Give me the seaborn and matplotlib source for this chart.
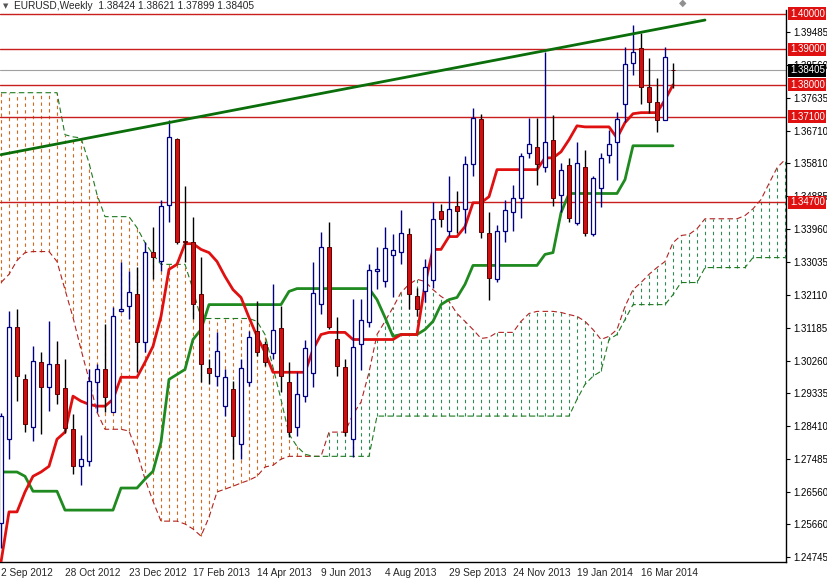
import matplotlib
matplotlib.use("Agg")
import matplotlib.pyplot as plt
import matplotlib.transforms as mtrans
import seaborn as sns
import numpy as np
import pandas as pd

# ---------------- data ----------------
opens = [1.2570,1.2805,1.3120,1.2974,1.2840,1.3022,1.2952,1.3016,1.2948,1.2835,
         1.2729,1.2745,1.2966,1.3002,1.2882,1.3165,1.3179,1.3212,1.3078,1.3332,
         1.3305,1.3464,1.3649,1.3362,1.3358,1.3212,1.3006,1.2982,1.2899,1.2946,
         1.2792,1.2966,1.3108,1.3072,1.3047,1.3117,1.2966,1.2840,1.2926,1.2991,
         1.3184,1.3344,1.3086,1.3008,1.2806,1.3072,1.3134,1.3278,1.3249,1.3322,
         1.3330,1.3380,1.3206,1.3220,1.3252,1.3445,1.3390,1.3460,1.3452,1.3578,
         1.3704,1.3384,1.3255,1.3390,1.3444,1.3482,1.3610,1.3626,1.3570,1.3646,
         1.3490,1.3574,1.3412,1.3568,1.3380,1.3510,1.3604,1.3640,1.3746,1.3861,
         1.3904,1.3794,1.3752,1.3700,1.3842]
highs = [1.2880,1.3165,1.3170,1.2988,1.3066,1.3050,1.3137,1.3080,1.3030,1.2876,
         1.2817,1.3002,1.3016,1.3128,1.3175,1.3302,1.3277,1.3290,1.3360,1.3400,
         1.3478,1.3702,1.3652,1.3515,1.3430,1.3316,1.3030,1.3106,1.3002,1.2968,
         1.3030,1.3108,1.3192,1.3080,1.3240,1.3179,1.3022,1.2994,1.3085,1.3302,
         1.3388,1.3414,1.3148,1.3030,1.3200,1.3200,1.3296,1.3344,1.3400,1.3380,
         1.3450,1.3398,1.3230,1.3310,1.3470,1.3466,1.3544,1.3502,1.3600,1.3734,
         1.3718,1.3444,1.3406,1.3476,1.3518,1.3610,1.3708,1.3708,1.3893,1.3716,
         1.3582,1.3596,1.3640,1.3616,1.3545,1.3610,1.3672,1.3724,1.3906,1.3968,
         1.3946,1.3876,1.3820,1.3906,1.3862]
lows = [1.2500,1.2750,1.2912,1.2826,1.2801,1.2820,1.2885,1.2904,1.2823,1.2706,
        1.2677,1.2731,1.2882,1.2882,1.2882,1.3163,1.3142,1.2994,1.3050,1.3254,
        1.3277,1.3414,1.3352,1.3302,1.3142,1.2966,1.2960,1.2954,1.2870,1.2750,
        1.2750,1.2954,1.3038,1.3010,1.3030,1.2938,1.2811,1.2815,1.2910,1.2952,
        1.3156,1.3114,1.2982,1.2814,1.2755,1.3000,1.3120,1.3226,1.3232,1.3204,
        1.3296,1.3170,1.3150,1.3190,1.3230,1.3400,1.3376,1.3384,1.3385,1.3544,
        1.3370,1.3196,1.3246,1.3360,1.3390,1.3425,1.3594,1.3520,1.3556,1.3460,
        1.3444,1.3414,1.3406,1.3376,1.3376,1.3456,1.3580,1.3534,1.3696,1.3828,
        1.3746,1.3720,1.3669,1.3700,1.3790]
closes = [1.2870,1.3120,1.2983,1.2848,1.3024,1.2952,1.3016,1.2932,1.2836,1.2729,
          1.2750,1.2969,1.3002,1.2924,1.3150,1.3170,1.3218,1.3078,1.3332,1.3318,
          1.3459,1.3654,1.3360,1.3358,1.3184,1.3016,1.2992,1.3052,1.2980,1.2814,
          1.3004,1.3092,1.3050,1.3022,1.3112,1.2982,1.2825,1.2932,1.3060,1.3215,
          1.3344,1.3120,1.3010,1.2826,1.3064,1.3140,1.3279,1.3283,1.3341,1.3336,
          1.3383,1.3212,1.3172,1.3288,1.3424,1.3424,1.3452,1.3446,1.3578,1.3706,
          1.3386,1.3258,1.3390,1.3448,1.3482,1.3600,1.3634,1.3578,1.3640,1.3482,
          1.3562,1.3426,1.3580,1.3384,1.3538,1.3596,1.3634,1.3704,1.3858,1.3892,
          1.3794,1.3752,1.3702,1.3878,1.38405]

tenkan = [1.2460,1.2601,1.2601,1.2657,1.2701,1.2713,1.2729,1.2805,1.2825,1.2926,
          1.2912,1.2903,1.2898,1.2898,1.2917,1.2979,1.2979,1.2979,1.3021,1.3066,
          1.3150,1.3282,1.3296,1.3354,1.3354,1.3338,1.3329,1.3304,1.3262,1.3225,
          1.3203,1.3147,1.3094,1.3049,1.2993,1.2993,1.2993,1.2993,1.2993,1.3057,
          1.3099,1.3105,1.3105,1.3105,1.3085,1.3085,1.3085,1.3085,1.3085,1.3085,
          1.3099,1.3099,1.3099,1.3240,1.3338,1.3338,1.3374,1.3374,1.3402,1.3469,
          1.3469,1.3486,1.3562,1.3562,1.3562,1.3562,1.3562,1.3562,1.3595,1.3595,
          1.3612,1.3646,1.3685,1.3682,1.3682,1.3682,1.3682,1.3651,1.3694,1.3719,
          1.3722,1.3722,1.3722,1.3758,1.3800]
kijun = [1.2713,1.2713,1.2713,1.2701,1.2659,1.2659,1.2659,1.2659,1.2606,1.2606,
         1.2606,1.2606,1.2606,1.2606,1.2606,1.2668,1.2668,1.2668,1.2693,1.2715,
         1.2797,1.2973,1.2987,1.3001,1.3085,1.3113,1.3183,1.3183,1.3183,1.3183,
         1.3183,1.3183,1.3183,1.3183,1.3183,1.3183,1.3220,1.3228,1.3228,1.3228,
         1.3228,1.3228,1.3228,1.3228,1.3228,1.3228,1.3228,1.3197,1.3147,1.3094,
         1.3099,1.3099,1.3099,1.3113,1.3136,1.3183,1.3197,1.3203,1.3240,1.3293,
         1.3293,1.3293,1.3293,1.3293,1.3293,1.3293,1.3293,1.3293,1.3324,1.3329,
         1.3441,1.3495,1.3495,1.3495,1.3495,1.3495,1.3495,1.3495,1.3534,1.3629,
         1.3629,1.3629,1.3629,1.3629,1.3629]
span_a = [1.3245,1.3268,1.3307,1.3329,1.3332,1.3332,1.3332,1.3304,1.3225,1.3147,
          1.3057,1.2973,1.2881,1.2833,1.2833,1.2833,1.2828,1.2769,1.2693,1.2631,
          1.2575,1.2575,1.2575,1.2567,1.2553,1.2533,1.2586,1.2657,1.2665,1.2673,
          1.2682,1.2690,1.2701,1.2727,1.2732,1.2749,1.2757,1.2757,1.2757,1.2757,
          1.2757,1.2825,1.2825,1.2825,1.2875,1.2909,1.2993,1.3099,1.3136,1.3175,
          1.3217,1.3240,1.3254,1.3248,1.3225,1.3206,1.3192,1.3158,1.3136,1.3113,
          1.3088,1.3091,1.3105,1.3105,1.3105,1.3136,1.3158,1.3164,1.3164,1.3164,
          1.3161,1.3155,1.3150,1.3136,1.3113,1.3085,1.3094,1.3113,1.3178,1.3225,
          1.3245,1.3268,1.3287,1.3304,1.3357,1.3377,1.3380,1.3396,1.3424,1.3424,
          1.3424,1.3424,1.3424,1.3433,1.3452,1.3478,1.3523,1.3567,1.3590]
span_b = [1.3778,1.3778,1.3778,1.3778,1.3778,1.3778,1.3778,1.3778,1.3660,1.3654,
          1.3651,1.3581,1.3492,1.3430,1.3430,1.3430,1.3430,1.3399,1.3357,1.3324,
          1.3296,1.3296,1.3296,1.3296,1.3225,1.3144,1.3144,1.3144,1.3144,1.3144,
          1.3144,1.3144,1.3136,1.3099,1.3007,1.2917,1.2819,1.2785,1.2763,1.2757,
          1.2757,1.2757,1.2757,1.2757,1.2757,1.2757,1.2757,1.2870,1.2870,1.2870,
          1.2870,1.2870,1.2870,1.2870,1.2870,1.2870,1.2870,1.2870,1.2870,1.2870,
          1.2870,1.2870,1.2870,1.2870,1.2870,1.2870,1.2870,1.2870,1.2870,1.2870,
          1.2870,1.2870,1.2917,1.2959,1.2982,1.2996,1.3085,1.3099,1.3141,1.3183,
          1.3183,1.3183,1.3183,1.3183,1.3211,1.3245,1.3245,1.3245,1.3287,1.3287,
          1.3287,1.3287,1.3287,1.3287,1.3315,1.3315,1.3315,1.3315,1.3315]

trend_x = [0, 88]
trend_y = [1.3604, 1.3982]
levels = [1.40000, 1.39000, 1.38000, 1.37100, 1.34700]
level_labels = ["1.40000", "1.39000", "1.38000", "1.37100", "1.34700"]
last_price = 1.38405
yticks = [1.39485,1.38560,1.37635,1.36710,1.35810,1.34885,1.33960,1.33035,1.32110,
          1.31185,1.30260,1.29335,1.28410,1.27485,1.26560,1.25660,1.24745]
date_pos = [0, 8, 16, 24, 32, 40, 48, 56, 64, 72, 80]
date_labels = ["2 Sep 2012", "28 Oct 2012", "23 Dec 2012", "17 Feb 2013", "14 Apr 2013",
               "9 Jun 2013", "4 Aug 2013", "29 Sep 2013", "24 Nov 2013", "19 Jan 2014",
               "16 Mar 2014"]
title = "EURUSD,Weekly  1.38424 1.38621 1.37899 1.38405"

# ---------------- plot ----------------
sns.set_style("white")
plt.rcParams['font.family'] = ['Liberation Sans', 'DejaVu Sans']
FS = 7.3
YFS = 7.0
fig = plt.figure(figsize=(8.27, 5.78), dpi=100)
ax = fig.add_axes([0.0, 1 - 562/578, 786/827, (562 - 10)/578])

n = len(opens)
idx = np.arange(n)
ci = np.arange(len(span_a))
a = np.array(span_a); b = np.array(span_b)

red_m = b > a
ax.vlines(ci[red_m], a[red_m], b[red_m], colors="#d2691e", linestyles=(0, (3, 3)), linewidth=0.8, zorder=1)
ax.vlines(ci[~red_m], b[~red_m], a[~red_m], colors="#2e8b57", linestyles=(0, (3, 3)), linewidth=0.8, zorder=1)

cloud = pd.DataFrame({"i": ci, "a": a, "b": b})
sns.lineplot(data=cloud, x="i", y="a", ax=ax, color="#b22222", linewidth=0.8, linestyle=(0, (5, 3)), zorder=2)
sns.lineplot(data=cloud, x="i", y="b", ax=ax, color="#1f7a1f", linewidth=0.8, linestyle=(0, (5, 3)), zorder=2)

for lv in levels:
    ax.axhline(lv, color="#c81e1e", linewidth=1.0, zorder=2)
ax.axhline(last_price, color="#a0a0a0", linewidth=0.8, zorder=2)

lines = pd.DataFrame({"i": idx, "t": tenkan, "k": kijun})
sns.lineplot(data=lines, x="i", y="k", ax=ax, color="#1f8a1f", linewidth=2.0, zorder=3)
sns.lineplot(data=lines, x="i", y="t", ax=ax, color="#e01010", linewidth=2.0, zorder=3)

o = np.array(opens); h = np.array(highs); l = np.array(lows); c = np.array(closes)
bull = c >= o
ax.vlines(idx[bull], l[bull], h[bull], colors="#000080", linewidth=1.0, zorder=4)
ax.vlines(idx[~bull], l[~bull], h[~bull], colors="#000000", linewidth=1.0, zorder=4)
bw = 0.62
ax.bar(idx[bull], (c - o)[bull], bottom=o[bull], width=bw, color="white", edgecolor="#000080", linewidth=0.9, zorder=5)
ax.bar(idx[~bull], (o - c)[~bull], bottom=c[~bull], width=bw, color="#d01010", edgecolor="#600000", linewidth=0.7, zorder=5)

ax.plot(trend_x, trend_y, color="#0a6e0a", linewidth=2.0, zorder=6)

ax.set_xlim(-0.125, 98.125)
ax.set_ylim(1.24603, 1.40102)

for s in ["left", "top"]:
    ax.spines[s].set_visible(False)
for s in ["right", "bottom"]:
    ax.spines[s].set_color("black"); ax.spines[s].set_linewidth(1.0)

ax.yaxis.tick_right()
ax.set_yticks(yticks)
ax.set_yticklabels([f"{v:.5f}" for v in yticks], fontsize=YFS)
ax.tick_params(axis="y", direction="out", length=3, pad=2, colors="black")
ax.set_xticks(date_pos)
ax.set_xticklabels(date_labels, fontsize=FS, ha="left")
ax.tick_params(axis="x", direction="out", length=3, pad=1)
ax.set_xlabel(""); ax.set_ylabel("")

tr = mtrans.blended_transform_factory(ax.transAxes, ax.transData)
for lv, lab in zip(levels, level_labels):
    ax.text(1.005, lv, lab, transform=tr, fontsize=YFS, color="white", va="center", ha="left",
            bbox=dict(boxstyle="square,pad=0.15", fc="#e01010", ec="none"), zorder=10, clip_on=False)
ax.text(1.005, last_price, f"{last_price:.5f}", transform=tr, fontsize=YFS, color="white", va="center", ha="left",
        bbox=dict(boxstyle="square,pad=0.15", fc="black", ec="none"), zorder=10, clip_on=False)

fig.text(14/827, 1 - 6/578, title, fontsize=FS, va="center", ha="left")
fig.text(3/827, 1 - 6/578, "▼", fontsize=5, va="center", ha="left", color="#555555", family="DejaVu Sans")
fig.text(683/827, 1 - 3/578, "◆", fontsize=7, va="center", ha="center", color="#909090", family="DejaVu Sans")

fig.savefig("out.png", dpi=100)
